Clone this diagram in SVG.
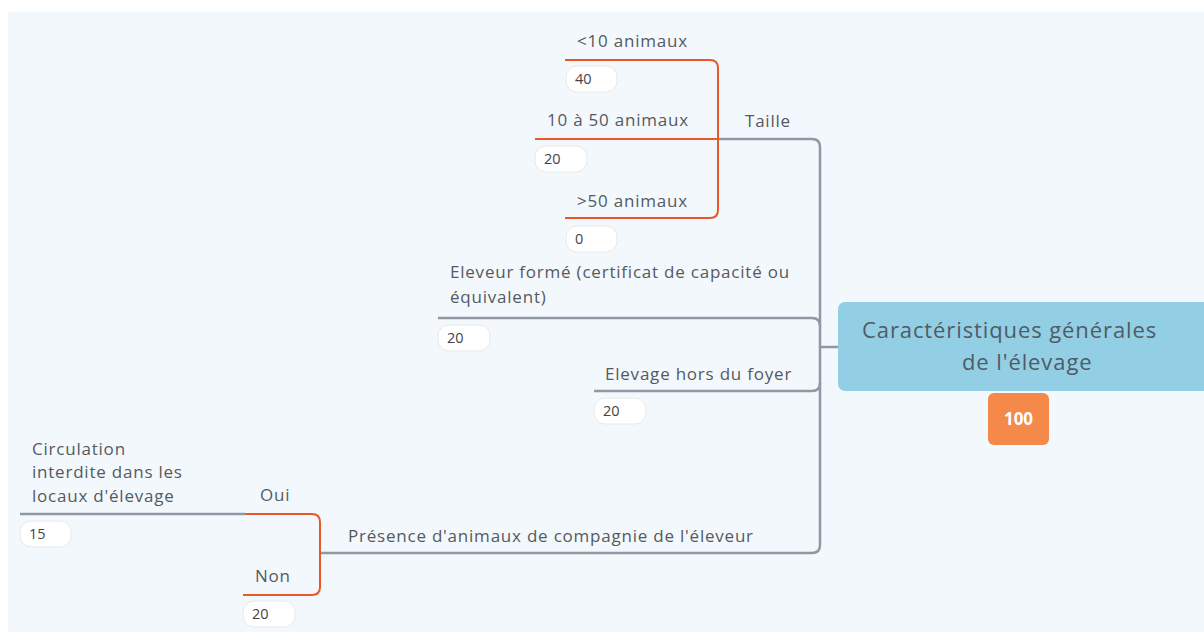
<svg xmlns="http://www.w3.org/2000/svg" width="1204" height="632" viewBox="0 0 1204 632">
  <style>
    .lbl { font-family: "Open Sans", "Noto Sans", sans-serif; font-size: 17px; letter-spacing: 0.78px; fill: #555a60; }
    .title { font-family: "Open Sans", "Noto Sans", sans-serif; font-size: 22px; letter-spacing: 0.9px; fill: #4f5b66; }
    .badge rect { fill: #ffffff; stroke: #e6e9ec; stroke-width: 1; }
    .badge text { font-family: "Open Sans", "Noto Sans", sans-serif; font-size: 14.5px; fill: #444; }
    .trunk { fill: none; stroke: #8f98a5; stroke-width: 2.5; }
    .twig { fill: none; stroke: #e8582a; stroke-width: 2; }
  </style>

  <rect x="0" y="0" width="1204" height="632" fill="#ffffff"/>
  <rect x="8" y="12" width="1196" height="620" fill="#f3f8fc"/>

  <!-- connectors -->
  <g id="connectors">
    <!-- root trunk -->
    <path class="trunk" d="M820 347 H838"/>
    <path class="trunk" d="M718 139 H812 Q820 139 820 147 V545 Q820 553 812 553 H320"/>
    <path class="trunk" d="M438 318 H812 Q820 318 820 326"/>
    <path class="trunk" d="M594 391 H812 Q820 391 820 383"/>
    <!-- Taille options -->
    <path class="twig" d="M565 60 H710 Q718 60 718 68 V210 Q718 218 710 218 H565"/>
    <path class="twig" d="M535 139 H718"/>
    <!-- Présence options -->
    <path class="trunk" d="M20 514 H245"/>
    <path class="twig" d="M245 514 H312 Q320 514 320 522 V587 Q320 595 312 595 H243"/>
  </g>

  <!-- root -->
  <g id="root">
    <rect x="838" y="302" width="372" height="89" rx="7" fill="#93cfe4"/>
    <text class="title" x="862" y="338">Caractéristiques générales</text>
    <text class="title" x="962" y="370">de l'élevage</text>
    <rect x="988" y="393" width="61" height="52" rx="6" fill="#f5894a"/>
    <text x="1018.5" y="425" text-anchor="middle" font-family="'Open Sans', 'Noto Sans', sans-serif" font-size="17" font-weight="bold" fill="#ffffff">100</text>
  </g>

  <g id="taille">
    <text class="lbl" x="745" y="127">Taille</text>
  </g>

  <g id="moins10">
    <text class="lbl" x="577" y="47">&lt;10 animaux</text>
    <g class="badge"><rect x="566" y="66" width="51" height="26" rx="11"/><text x="575" y="84">40</text></g>
  </g>

  <g id="de10a50">
    <text class="lbl" x="547" y="126">10 à 50 animaux</text>
    <g class="badge"><rect x="535" y="146" width="52" height="26" rx="11"/><text x="544" y="164">20</text></g>
  </g>

  <g id="plus50">
    <text class="lbl" x="577" y="207">&gt;50 animaux</text>
    <g class="badge"><rect x="566" y="226" width="51" height="26" rx="11"/><text x="575" y="244">0</text></g>
  </g>

  <g id="eleveur-forme">
    <text class="lbl" x="450" y="278">Eleveur formé (certificat de capacité ou</text>
    <text class="lbl" x="450" y="303">équivalent)</text>
    <g class="badge"><rect x="438" y="325" width="52" height="26" rx="11"/><text x="447" y="343">20</text></g>
  </g>

  <g id="hors-foyer">
    <text class="lbl" x="605" y="380">Elevage hors du foyer</text>
    <g class="badge"><rect x="594" y="398" width="52" height="26" rx="11"/><text x="603" y="416">20</text></g>
  </g>

  <g id="presence">
    <text class="lbl" x="348" y="542">Présence d'animaux de compagnie de l'éleveur</text>
  </g>

  <g id="oui">
    <text class="lbl" x="260" y="501">Oui</text>
  </g>

  <g id="circulation">
    <text class="lbl" x="32" y="455">Circulation</text>
    <text class="lbl" x="32" y="478">interdite dans les</text>
    <text class="lbl" x="32" y="502">locaux d'élevage</text>
    <g class="badge"><rect x="20" y="521" width="51" height="26" rx="11"/><text x="29" y="539">15</text></g>
  </g>

  <g id="non">
    <text class="lbl" x="255" y="582">Non</text>
    <g class="badge"><rect x="243" y="601" width="52" height="26" rx="11"/><text x="252" y="619">20</text></g>
  </g>
</svg>
